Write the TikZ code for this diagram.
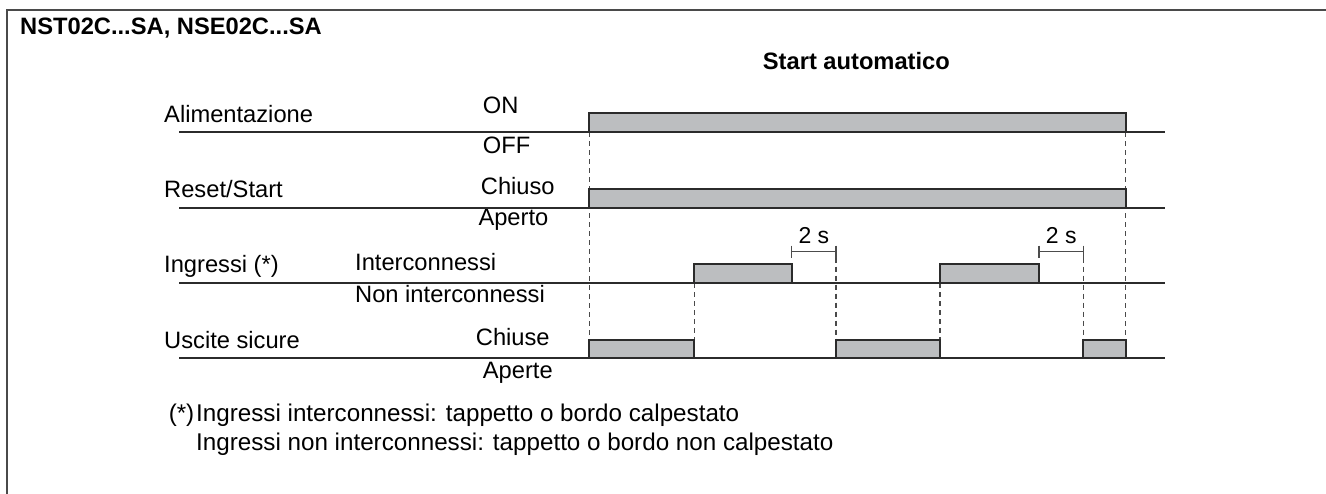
\documentclass[tikz,border=0pt]{standalone}
\usepackage{fontspec}
\setmainfont{Liberation Sans}
\definecolor{sigc}{HTML}{2B2B2B}
\definecolor{pulsefill}{HTML}{BCBEC0}
\definecolor{guidec}{HTML}{4A4A4A}
\definecolor{framec}{HTML}{4A4A4A}
\begin{document}
\begin{tikzpicture}[x=1pt,y=-1pt,
  sig/.style={line width=1.8pt, draw=sigc},
  pulse/.style={line width=1.8pt, draw=sigc, fill=pulsefill},
  guide/.style={line width=1.3pt, draw=guidec, dash pattern=on 5pt off 4pt},
  lbl/.style={anchor=base west, inner sep=0pt, font=\fontsize{23.7}{28}\selectfont},
  flbl/.style={anchor=base west, inner sep=0pt, font=\fontsize{24.2}{28}\selectfont},
  blbl/.style={anchor=base west, inner sep=0pt, font=\fontsize{23.7}{28}\selectfont\bfseries},
  tlbl/.style={anchor=base, inner sep=0pt, font=\fontsize{23}{26}\selectfont},
  marker/.style={line width=1.3pt, draw=black!70},
  frame/.style={line width=2pt, draw=framec}]
\useasboundingbox (0,0) rectangle (1326,494);
% frame
\coordinate (fb) at (7,494);
\coordinate (fc) at (7,10);
\coordinate (fr) at (1326,10);
\draw[frame] (fb) -- (fc) -- (fr);
% titles
\node[blbl] (title) at (20,35) {NST02C...SA, NSE02C...SA};
\node[blbl] (mode) at (762.7,69.3) {Start automatico};
% row labels
\node[lbl] (l1) at (164,122.3) {Alimentazione};
\node[lbl] (l2) at (164,198) {Reset/Start};
\node[lbl] (l3) at (164,273) {Ingressi (*)};
\node[lbl] (l4) at (164,348.5) {Uscite sicure};
% state labels
\node[lbl] (s1h) at (482.7,113.3) {ON};
\node[lbl] (s1l) at (482.7,153.3) {OFF};
\node[lbl] (s2h) at (480.7,195) {Chiuso};
\node[lbl] (s2l) at (478.3,226) {Aperto};
\node[lbl] (s3h) at (355,270.7) {Interconnessi};
\node[lbl] (s3l) at (355,302.3) {Non interconnessi};
\node[lbl] (s4h) at (475.7,346) {Chiuse};
\node[lbl] (s4l) at (482.7,378) {Aperte};
% guides
\draw[guide] (589.3,132.3) -- (589.3,340);
\draw[guide] (1125.7,132.3) -- (1125.7,340);
\draw[guide] (694.3,283.3) -- (694.3,340);
\draw[guide] (940,283.3) -- (940,340);
\draw[guide] (836,257.7) -- (836,340);
\draw[guide] (1083.3,257.7) -- (1083.3,340);
% baselines
\coordinate (a0) at (179.3,132.3); \coordinate (a1) at (1165,132.3);
\coordinate (b0) at (179.3,208); \coordinate (b1) at (1165,208);
\coordinate (c0) at (179.3,283.3); \coordinate (c1) at (1165,283.3);
\coordinate (d0) at (179.3,358.3); \coordinate (d1) at (1165,358.3);
\draw[sig] (a0) -- (a1);
\draw[sig] (b0) -- (b1);
\draw[sig] (c0) -- (c1);
\draw[sig] (d0) -- (d1);
% pulses
\draw[pulse] (589.3,132.3) rectangle (1125.7,113);
\draw[pulse] (589.3,208) rectangle (1125.7,189);
\draw[pulse] (694.3,283.3) rectangle (791.7,264.3);
\draw[pulse] (940,283.3) rectangle (1039,264.3);
\draw[pulse] (589.3,358.3) rectangle (694.3,340);
\draw[pulse] (836,358.3) rectangle (940,340);
\draw[pulse] (1083.3,358.3) rectangle (1125.7,340);
% 2 s markers
\coordinate (m1a) at (791.7,251.7); \coordinate (m1b) at (836,251.7);
\draw[marker] (m1a) -- (m1b);
\draw[marker] (791.7,245.7) -- (791.7,257.7);
\draw[marker] (836,245.7) -- (836,257.7);
\node[tlbl] (t1) at (813.9,244) {2 s};
\coordinate (m2a) at (1039,251.7); \coordinate (m2b) at (1083.3,251.7);
\draw[marker] (m2a) -- (m2b);
\draw[marker] (1039,245.7) -- (1039,257.7);
\draw[marker] (1083.3,245.7) -- (1083.3,257.7);
\node[tlbl] (t2) at (1061.2,244) {2 s};
% footnote
\node[flbl, anchor=base east] (fa) at (194.5,421.7) {(*)};
\node[flbl] (f1) at (196,421.7) {Ingressi interconnessi: tappetto o bordo calpestato};
\node[flbl] (f2) at (196,450) {Ingressi non interconnessi: tappetto o bordo non calpestato};
\end{tikzpicture}
\end{document}
